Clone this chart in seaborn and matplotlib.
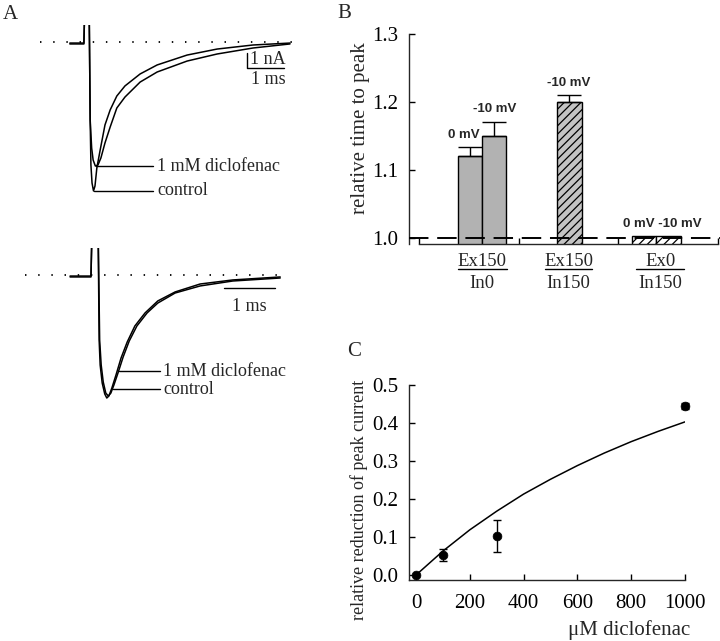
import numpy as np
import pandas as pd
import matplotlib
matplotlib.use("Agg")
import matplotlib.pyplot as plt
import matplotlib.transforms as mtransforms
import seaborn as sns

# ===== DATA =====
# A (top): current traces, time in ms, current in nA
top_ctrl_t = [-0.41, -0.03, 0.0, 0.11, 0.14, 0.16, 0.19, 0.23, 0.27, 0.32, 0.41, 0.54,
              0.68, 0.86, 1.08, 1.49, 1.95, 2.76, 3.57, 4.54, 5.54]
top_ctrl_i = [-0.07, -0.07, 3.0, 3.0, -5.2, -8.2, -9.4, -9.93, -9.6, -8.4, -7.2, -5.53,
              -4.53, -3.6, -2.93, -2.13, -1.53, -0.87, -0.47, -0.2, -0.07]
top_dic_t = [-0.41, -0.03, 0.0, 0.11, 0.14, 0.18, 0.22, 0.28, 0.35, 0.43, 0.54,
             0.68, 0.86, 1.08, 1.49, 1.95, 2.76, 3.57, 4.54, 5.54]
top_dic_i = [-0.13, -0.13, 3.0, 3.0, -5.2, -7.07, -7.87, -8.27, -8.2, -7.73, -6.73,
             -5.67, -4.4, -3.67, -2.67, -2.0, -1.27, -0.8, -0.4, -0.13]

# A (bottom)
bot_ctrl_t = [-0.43, -0.02, 0.0, 0.12, 0.14, 0.16, 0.2, 0.25, 0.29, 0.33, 0.39, 0.47,
              0.57, 0.69, 0.84, 1.04, 1.29, 1.63, 2.12, 2.76, 3.69]
bot_ctrl_i = [-0.07, -0.07, 3.0, 3.0, -4.33, -6.0, -7.2, -7.93, -8.2, -8.07, -7.53, -6.67,
              -5.53, -4.47, -3.4, -2.53, -1.73, -1.13, -0.6, -0.33, -0.13]
bot_dic_t = [-0.43, -0.02, 0.0, 0.12, 0.15, 0.18, 0.22, 0.27, 0.32, 0.37, 0.43, 0.51,
             0.61, 0.73, 0.88, 1.08, 1.29, 1.63, 2.12, 2.76, 3.69]
bot_dic_i = [-0.13, -0.13, 3.0, 3.0, -4.33, -6.0, -7.13, -7.87, -8.07, -7.87, -7.33, -6.53,
             -5.47, -4.4, -3.4, -2.53, -1.87, -1.2, -0.73, -0.4, -0.2]

# B: relative time to peak
bar_values = [1.12, 1.15, 1.20, 1.003, 1.003]
bar_err = [0.013, 0.02, 0.01, 0.0, 0.0]
bar_labels = ["0 mV", "-10 mV", "-10 mV", "0 mV -10 mV"]
group_top = ["Ex150", "Ex150", "Ex0"]
group_bottom = ["In0", "In150", "In150"]

# C: relative reduction of peak current
conc = [0, 100, 300, 1000]
reduction = [0.0, 0.052, 0.103, 0.445]
reduction_err = [0.0, 0.016, 0.042, 0.007]
fit_conc = [0, 100, 200, 300, 400, 500, 600, 700, 800, 900, 1000]
fit_red = [0.0, 0.063, 0.119, 0.168, 0.213, 0.252, 0.288, 0.321, 0.351, 0.378, 0.403]

# ===== STYLE =====
sns.set_theme(style="ticks")
plt.rcParams["font.family"] = ["Liberation Serif", "DejaVu Serif"]
plt.rcParams["hatch.linewidth"] = 0.9
plt.rcParams["axes.linewidth"] = 1.0

W, H = 720, 641
fig = plt.figure(figsize=(W / 100, H / 100), dpi=100)
fig.patch.set_facecolor("white")


def box(x0, y0, x1, y1):
    return [x0 / W, 1 - y1 / H, (x1 - x0) / W, (y1 - y0) / H]


def trace_axes(b, origin, px_ms, px_na):
    ax = fig.add_axes(box(*b))
    ax.set_xlim((b[0] - origin[0]) / px_ms, (b[2] - origin[0]) / px_ms)
    ax.set_ylim(-(b[3] - origin[1]) / px_na, (origin[1] - b[1]) / px_na)
    ax.axis("off")
    return ax


def draw_trace(ax, t, i):
    sns.lineplot(x=t, y=i, sort=False, estimator=None, color="black",
                 linewidth=1.1, ax=ax)


# ===== A top =====
# axes top edge cuts the capacitive spike like in the original
axA1 = trace_axes((0, 25, 340, 235), (85, 42), 37, 15)
axA1.plot([-1.22, 5.86], [0, 0], color="black", linewidth=1.3,
          linestyle=(0, (0.8, 6.5)))
draw_trace(axA1, top_ctrl_t, top_ctrl_i)
draw_trace(axA1, top_dic_t, top_dic_i)
axA1.plot([0.29, 1.84], [-8.27, -8.27], color="black", linewidth=1.0)
axA1.plot([0.24, 1.84], [-9.93, -9.93], color="black", linewidth=1.0)
axA1.text(1.95, -8.27, "1 mM diclofenac", fontsize=13, va="center", ha="left")
axA1.text(1.95, -9.93, "control", fontsize=13, va="center", ha="left")
# scale bars
axA1.plot([4.38, 4.38, 5.38], [-0.73, -1.73, -1.73], color="black", linewidth=1.0)
axA1.text(4.46, -1.2, "1 nA", fontsize=13, va="center", ha="left")
axA1.text(4.95, -2.5, "1 ms", fontsize=13, va="center", ha="center")

# ===== A bottom =====
axA2 = trace_axes((0, 248, 340, 430), (92, 275), 51, 15)
axA2.plot([-1.31, 3.69], [0, 0], color="black", linewidth=1.3,
          linestyle=(0, (0.8, 6.5)))
draw_trace(axA2, bot_ctrl_t, bot_ctrl_i)
draw_trace(axA2, bot_dic_t, bot_dic_i)
axA2.plot([0.53, 1.33], [-6.4, -6.4], color="black", linewidth=1.0)
axA2.plot([0.41, 1.33], [-7.6, -7.6], color="black", linewidth=1.0)
axA2.text(1.39, -6.4, "1 mM diclofenac", fontsize=13, va="center", ha="left")
axA2.text(1.39, -7.6, "control", fontsize=13, va="center", ha="left")
axA2.plot([2.59, 3.59], [-0.87, -0.87], color="black", linewidth=1.0)
axA2.text(3.09, -2.07, "1 ms", fontsize=13, va="center", ha="center")

# ===== B =====
axB = fig.add_axes(box(409, 34, 720, 244))
bar_pos = [0.51, 0.755, 1.51, 2.26, 2.505]
df_b = pd.DataFrame({"pos": bar_pos, "val": bar_values})
sns.barplot(data=df_b, x="pos", y="val", native_scale=True, width=1.0,
            errorbar=None, color="#b2b2b2", edgecolor="black", linewidth=1.0,
            ax=axB, zorder=2)
fills = ["#b2b2b2", "#b2b2b2", "#c4c4c4", "white", "white"]
hatches = [None, None, "////", "////", "////"]
for p, fc, ht in zip(axB.patches, fills, hatches):
    p.set_facecolor(fc)
    if ht:
        p.set_hatch(ht)
axB.errorbar(bar_pos[:3], bar_values[:3], yerr=[[0, 0, 0], bar_err[:3]],
             fmt="none", ecolor="black", elinewidth=1.0, capsize=8.5,
             capthick=1.0, zorder=3)
axB.axhline(1.0, color="black", linewidth=1.4, linestyle=(0, (10, 4.5)), zorder=4)
axB.set_xlim(-0.1, 3.02)
axB.set_ylim(0.991, 1.3)
axB.set_yticks([1.0, 1.1, 1.2, 1.3])
axB.set_yticklabels(["1.0", "1.1", "1.2", "1.3"])
axB.set_xticks([0, 1, 2, 3])
axB.set_xticklabels([])
axB.spines["top"].set_visible(False)
axB.spines["right"].set_visible(False)
axB.spines["bottom"].set_bounds(0, 3)
axB.tick_params(axis="both", direction="in", length=4, width=1.0,
                labelsize=15, pad=8, colors="black")
axB.set_xlabel("")
axB.set_ylabel("relative time to peak", fontsize=15)
axB.yaxis.set_label_coords(-0.125, 0.552)

lab_x = [0.45, 0.757, 1.50, 2.44]
lab_y = [1.147, 1.185, 1.2235, 1.016]
for x, y, s in zip(lab_x, lab_y, bar_labels):
    axB.text(x, y, s, fontsize=9.5, fontweight="bold", ha="center", va="baseline",
             family=["Liberation Sans", "DejaVu Sans"])

trans = mtransforms.blended_transform_factory(axB.transData, axB.transAxes)
grp_x = [0.635, 1.50, 2.42]
grp_half = [0.245, 0.24, 0.24]
for x, hw, a, b in zip(grp_x, grp_half, group_top, group_bottom):
    axB.text(x, -0.105, a, fontsize=13.5, ha="center", va="baseline",
             transform=trans)
    axB.text(x, -0.21, b, fontsize=13.5, ha="center", va="baseline",
             transform=trans)
    axB.plot([x - hw, x + hw], [-0.119, -0.119], color="black", linewidth=1.0,
             transform=trans, clip_on=False)

# ===== C =====
axC = fig.add_axes(box(409, 385, 685, 580))
sns.lineplot(x=fit_conc, y=fit_red, color="black", linewidth=1.1, ax=axC)
axC.errorbar(conc[1:], reduction[1:], yerr=reduction_err[1:], fmt="none",
             ecolor="black", elinewidth=1.0, capsize=3, capthick=1.0, clip_on=False)
sns.scatterplot(x=conc, y=reduction, color="black", s=40, edgecolor="black",
                ax=axC, zorder=5, clip_on=False)
axC.set_xlim(-26, 1000)
axC.set_ylim(-0.013, 0.5)
axC.set_xticks([0, 200, 400, 600, 800, 1000])
axC.set_yticks([0.0, 0.1, 0.2, 0.3, 0.4, 0.5])
axC.set_yticklabels(["0.0", "0.1", "0.2", "0.3", "0.4", "0.5"])
axC.spines["top"].set_visible(False)
axC.spines["right"].set_visible(False)
axC.tick_params(axis="both", direction="in", length=4, width=1.0,
                labelsize=15, colors="black")
axC.tick_params(axis="y", pad=8)
axC.tick_params(axis="x", pad=10)
axC.set_ylabel("relative reduction of peak current", fontsize=13)
axC.yaxis.set_label_coords(-0.149, 0.41)
axC.set_xlabel("\u03bcM diclofenac", fontsize=15, loc="right")
axC.xaxis.set_label_coords(1.018, -0.205)

# ===== panel letters =====
fig.text(3 / W, 1 - 19 / H, "A", fontsize=15, va="baseline")
fig.text(337 / W, 1 - 18 / H, "B", fontsize=15, va="baseline")
fig.text(347 / W, 1 - 356 / H, "C", fontsize=15, va="baseline")

fig.savefig("out.png", dpi=100)
